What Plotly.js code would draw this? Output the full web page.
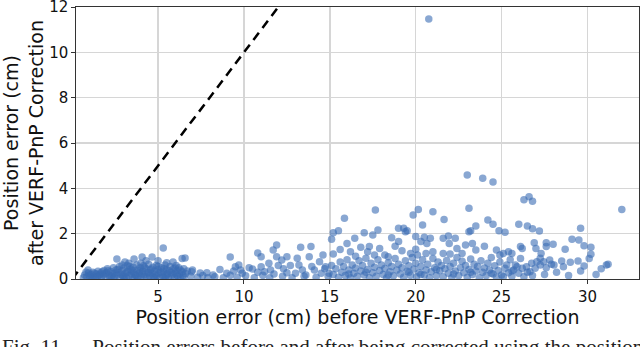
<!DOCTYPE html>
<html>
<head>
<meta charset="utf-8">
<script src="https://cdn.plot.ly/plotly-3.0.1.min.js"></script>
<style>
	html, body { margin: 0; padding: 0; background: #fff; }
	#chart { width: 640px; height: 347px; }
</style>
</head>
<body>
<div id="chart"></div>
<script>
// position error (cm): [before correction, after VERF-PnP correction]
const denseCluster = [
	[0.65,0.05],[0.72,0.18],[0.85,0.1],[0.92,0.4],[0.95,0.26],[1.05,0.08],[1.1,0.2],[1.2,0.3],[1.25,0.12],[1.35,0.05],
	[1.4,0.22],[1.5,0.34],[1.55,0.14],[1.65,0.27],[1.7,0.06],[1.8,0.18],[1.85,0.38],[1.95,0.1],[2.0,0.28],[2.05,0.45],
	[2.15,0.16],[2.2,0.04],[2.25,0.33],[2.35,0.22],[2.4,0.5],[2.45,0.09],[2.55,0.4],[2.6,0.88],[2.6,0.18],[2.7,0.28],
	[2.75,0.55],[2.8,0.06],[2.9,0.36],[2.95,0.15],[3.0,0.47],[3.07,0.75],[3.1,0.25],[3.15,0.05],[3.2,0.6],[3.25,0.35],
	[3.3,0.14],[3.4,0.43],[3.45,0.22],[3.5,0.08],[3.55,0.52],[3.6,0.88],[3.6,0.3],[3.7,0.16],[3.75,0.62],[3.8,0.4],
	[3.85,0.04],[3.9,0.26],[3.95,0.5],[4.0,0.12],[4.07,0.97],[4.1,0.34],[4.15,0.58],[4.2,0.2],[4.3,0.45],[4.3,0.8],
	[4.35,0.07],[4.4,0.3],[4.45,0.65],[4.5,0.15],[4.55,0.4],[4.65,0.97],[4.65,0.24],[4.7,0.52],[4.75,0.05],[4.8,0.34],
	[4.9,0.6],[4.9,0.14],[5.0,0.8],[5.0,0.42],[5.05,0.25],[5.1,0.06],[5.2,0.5],[5.25,0.18],[5.3,1.37],[5.3,0.33],
	[5.4,0.62],[5.45,0.1],[5.5,0.42],[5.55,0.24],[5.6,0.04],[5.7,0.55],[5.75,0.3],[5.8,0.15],[5.87,0.75],[5.9,0.45],
	[5.95,0.06],[6.0,0.26],[6.05,0.6],[6.1,0.38],[6.15,0.12],[6.2,0.5],[6.25,0.22],[6.3,0.04],[6.4,0.9],[6.4,0.32],
	[6.45,0.15],[6.5,0.45],[6.57,0.93],[6.6,0.24],
	[0.8,0.3],[1.0,0.15],[1.15,0.02],[1.3,0.25],[1.45,0.1],[1.6,0.2],[1.75,0.32],[1.9,0.24],[2.1,0.36],[2.3,0.12],
	[2.5,0.26],[2.65,0.42],[2.85,0.2],[3.05,0.1],[3.2,0.3],[3.35,0.55],[3.5,0.38],[3.65,0.2],[3.8,0.08],[3.95,0.36],
	[4.05,0.22],[4.2,0.52],[4.25,0.1],[4.45,0.26],[4.6,0.44],[4.7,0.1],[4.85,0.22],[5.0,0.55],[5.15,0.3],[5.3,0.08],
	[5.35,0.45],[5.5,0.2],[5.65,0.36],[5.85,0.22],[6.0,0.48],[6.1,0.16],[6.3,0.4],[6.5,0.08],[2.4,0.02],[3.0,0.02],
	[3.6,0.02],[4.8,0.02],[5.4,0.02],[4.0,0.7],[3.3,0.7],[5.5,0.72],[2.9,0.62]
]

const sparseMiddle = [
	[6.7,0.35],[6.9,0.12],[6.96,0.32],[7.0,0.4],[7.3,0.08],[7.45,0.26],[7.6,0.15],[7.84,0.28],[7.9,0.05],[8.2,0.18],
	[8.3,0.1],[8.6,0.42],[8.8,0.06],[9.0,0.25],[9.2,0.97],[9.2,0.16],[9.4,0.35],[9.5,0.54],[9.6,0.08],[9.7,0.62],
	[9.8,0.4],[9.9,0.25],[10.1,0.14],[10.3,0.5],[10.5,0.44],[10.6,0.05],[10.8,1.15],[10.8,0.3],[11.0,0.98],[11.0,0.54],
	[11.1,0.16],[11.2,0.32],[11.45,0.69],[11.5,0.06],[11.55,0.4],[11.7,1.28],[11.75,0.22],[11.9,1.5],[11.9,0.98],[12.0,0.6],
	[12.2,0.84],[12.25,0.12],[12.3,0.45],[12.5,0.98],[12.5,0.28],[12.7,0.6],[12.8,0.05],[13.0,0.25],[13.1,0.91],[13.2,0.62],
	[13.3,1.4],[13.4,0.4],[13.5,0.12],[13.6,0.18],[13.8,0.98],[13.9,1.43],[13.95,0.55],[14.1,0.4],[14.2,0.08],[14.4,0.76],
	[14.5,0.25],[14.6,1.06],[14.7,0.45],[14.75,0.54],[14.9,0.12],[14.95,0.25]
]

const highPoints = [
	[15.1,1.75],[15.2,2.04],[15.5,2.13],[15.85,2.68],[16.0,1.57],[16.45,1.8],[16.8,1.4],[17.0,2.04],[17.3,1.43],[17.5,1.94],
	[17.65,3.04],[17.8,2.16],[18.6,1.82],[19.0,2.24],[19.3,2.24],[19.4,2.09],[19.0,1.65],[19.5,2.13],[19.85,2.82],[20.15,3.07],
	[20.0,1.87],[20.4,2.38],[20.5,1.84],[20.3,1.65],[20.65,1.57],[20.76,11.47],[21.0,2.97],[21.65,2.63],[20.85,1.8],[21.6,1.8],
	[21.9,1.9],[22.3,1.8],[21.95,1.57],[22.4,1.35],[22.9,1.5],[23.3,1.57],[23.0,4.59],[23.9,4.44],[24.5,4.28],[23.1,3.12],
	[23.1,2.09],[23.2,2.13],[23.5,2.34],[24.2,2.6],[24.5,2.41],[24.85,2.13],[25.2,2.06],[26.0,2.41],[26.5,2.34],[26.8,2.22],
	[27.2,2.12],[26.3,3.5],[26.6,3.63],[26.8,3.43],[29.6,2.24],[29.1,1.75],[29.5,1.72],[29.8,1.47],[30.2,1.4],[30.2,1.09],
	[28.7,1.31],[32.0,3.07],[31.2,0.65]
]

const midBand = [
	[15.2,1.1],[15.6,1.3],[16.2,1.2],[17.2,1.2],[17.6,1.06],[17.9,1.35],[18.2,1.06],[18.4,0.98],[19.7,1.13],[20.0,1.31],
	[20.1,1.06],[20.6,1.13],[21.0,1.2],[21.6,1.13],[22.7,1.13],[23.5,1.28],[24.0,1.45],[24.7,1.28],[25.4,1.2],[25.6,1.13],
	[25.1,1.13],[24.9,1.06],[26.1,1.43],[26.2,1.35],[26.9,1.6],[27.6,1.6],[28.0,1.53],[27.6,1.43],[27.0,1.35],[27.3,1.13],
	[22.0,1.1],[19.2,1.25],[18.8,1.45],[16.5,1.0]
]

const lowBand = [
	[15.1,0.6],[15.2,0.2],[15.35,0.45],[15.5,0.08],[15.6,0.75],[15.7,0.3],[15.8,0.55],[15.9,0.15],[16.0,0.85],[16.1,0.4],
	[16.2,0.05],[16.3,0.62],[16.4,0.25],[16.5,0.48],[16.6,0.12],[16.7,0.8],[16.8,0.35],[16.9,0.6],[17.0,0.18],[17.1,0.92],
	[17.2,0.42],[17.3,0.05],[17.4,0.7],[17.5,0.28],[17.6,0.52],[17.7,0.12],[17.8,0.85],[17.9,0.38],[18.0,0.62],[18.1,0.2],
	[18.2,0.46],[18.3,0.04],[18.4,0.72],[18.5,0.32],[18.6,0.55],[18.7,0.14],[18.8,0.9],[18.9,0.4],[19.0,0.65],[19.1,0.22],
	[19.2,0.5],[19.3,0.08],[19.4,0.8],[19.5,0.34],[19.6,0.58],[19.7,0.16],[19.8,0.95],[19.9,0.44],[20.0,0.7],[20.05,0.1],
	[20.2,0.28],[20.3,0.55],[20.4,0.85],[20.5,0.18],[20.6,0.4],[20.7,0.65],[20.8,0.06],[20.9,0.32],[21.0,0.9],[21.1,0.5],
	[21.2,0.15],[21.3,0.75],[21.4,0.36],[21.5,0.6],[21.6,0.1],[21.7,0.45],[21.8,0.82],[21.9,0.25],[22.0,0.55],[22.1,0.05],
	[22.2,0.7],[22.3,0.35],[22.4,0.95],[22.5,0.15],[22.6,0.5],[22.7,0.78],[22.8,0.28],[22.9,0.6],[23.0,0.08],[23.1,0.42],
	[23.2,0.88],[23.3,0.2],[23.4,0.65],[23.5,0.35],[23.6,0.55],[23.7,0.05],[23.8,0.8],[23.9,0.3],[24.0,0.48],[24.1,0.15],
	[24.2,0.7],[24.3,0.4],[24.4,0.95],[24.5,0.22],[24.6,0.58],[24.7,0.08],[24.8,0.38],[24.9,0.75],[25.0,0.18],[25.1,0.1],
	[25.2,0.47],[25.3,0.62],[25.4,0.28],[25.5,0.85],[25.6,0.12],[25.7,0.4],[25.8,0.62],[25.9,0.54],[26.0,0.25],[26.1,0.9],
	[26.2,0.47],[26.3,0.1],[26.45,0.54],[26.5,0.3],[26.65,0.32],[26.75,0.69],[26.8,0.15],[26.95,0.47],[27.05,0.76],[27.25,0.91],
	[27.25,0.62],[27.45,0.76],[27.5,0.2],[27.6,0.5],[27.8,0.84],[27.9,0.65],[28.05,0.62],[28.2,0.3],[28.5,0.79],[28.6,0.54],
	[28.9,0.15],[29.0,0.74],[29.45,0.79],[29.6,0.35],[29.8,0.57],[30.1,0.9],[30.5,0.2],[30.8,0.45],[31.1,0.62],
	[16.1,0.22],[17.1,0.3],[18.4,0.18],[19.6,0.3],[20.3,0.2],[21.2,0.42],[22.2,0.22],[23.2,0.3],[24.4,0.25],[25.6,0.35]
]

const diagLine = [0, 12.5]

const xTicks = [5, 10, 15, 20, 25, 30]
const yTicks = [0, 2, 4, 6, 8, 10, 12]

const allPoints = [...denseCluster, ...sparseMiddle, ...highPoints, ...midBand, ...lowBand]
const errBefore = allPoints.map(p => p[0])
const errAfter = allPoints.map(p => p[1])

const fontFamily = 'DejaVu Sans, sans-serif'

const scatterTrace = {
	x: errBefore,
	y: errAfter,
	type: 'scatter',
	mode: 'markers',
	marker: {
		size: 7.5,
		color: 'rgb(58,108,180)',
		opacity: 0.6,
		line: { width: 0 }
	},
	hoverinfo: 'skip'
}

const lineTrace = {
	x: diagLine,
	y: diagLine,
	type: 'scatter',
	mode: 'lines',
	line: { color: '#000', width: 2.5, dash: '9px,6px' },
	hoverinfo: 'skip'
}

function axisStyle(tickvals, range, title, standoff) {
	return {
		range: range,
		tickvals: tickvals,
		ticktext: tickvals.map(String),
		showgrid: true,
		gridcolor: '#d6d6d6',
		gridwidth: 1.5,
		zeroline: false,
		showline: true,
		linecolor: '#333',
		linewidth: 1.2,
		mirror: true,
		ticks: 'outside',
		ticklen: 3.5,
		tickwidth: 1,
		tickcolor: '#333',
		ticklabeloverflow: 'allow',
		tickfont: { family: fontFamily, size: 15, color: '#111' },
		title: { text: title, font: { family: fontFamily, size: 19, color: '#111' }, standoff: standoff },
		automargin: false
	}
}

const layout = {
	width: 640,
	height: 347,
	margin: { l: 76, r: 1, t: 7, b: 68, pad: 0 },
	showlegend: false,
	paper_bgcolor: '#fff',
	plot_bgcolor: '#fff',
	xaxis: axisStyle(xTicks, [0.22, 33.0], 'Position error (cm) before VERF-PnP Correction', 0),
	yaxis: axisStyle(yTicks, [0, 12], 'Position error (cm)<br>after VERF-PnP Correction', 1),
	annotations: [{
		xref: 'paper', yref: 'paper',
		x: -76 / 563, y: -0.197,
		xanchor: 'left', yanchor: 'top',
		showarrow: false,
		text: 'Fig. 11.&nbsp;&nbsp;&nbsp;&nbsp;&nbsp;Position errors before and after being corrected using the position',
		font: { family: 'Liberation Serif, serif', size: 21, color: '#222' }
	}]
}

Plotly.newPlot('chart', [scatterTrace, lineTrace], layout, {
	displayModeBar: false,
	staticPlot: true
})
</script>
</body>
</html>
